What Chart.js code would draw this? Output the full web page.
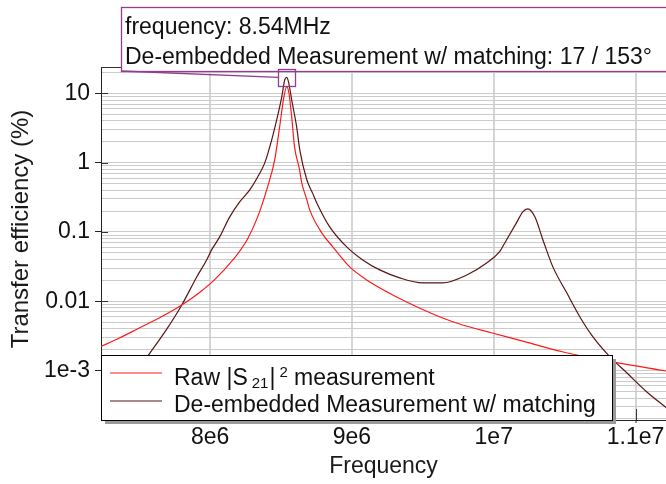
<!DOCTYPE html>
<html>
<head>
<meta charset="utf-8">
<script src="https://cdn.jsdelivr.net/npm/chart.js@4"></script>
<style>
  body { margin: 0; background: #fff; }
  canvas { display: block; }
</style>
</head>
<body>
<canvas id="chart" width="666" height="484"></canvas>
<script>
// values (frequency in Hz, efficiency in %)
const seriesNames = ["Raw |S21|² measurement", "De-embedded Measurement w/ matching"];

const freqRaw = [7.22e6, 7.36e6, 7.50e6, 7.64e6, 7.80e6, 7.93e6, 8.03e6, 8.16e6, 8.26e6, 8.335e6,
  8.405e6, 8.455e6, 8.49e6, 8.52e6, 8.54e6, 8.555e6, 8.575e6, 8.595e6, 8.63e6, 8.646e6,
  8.68e6, 8.702e6, 8.787e6, 8.865e6, 8.984e6, 9.104e6, 9.316e6, 9.46e6, 9.64e6, 9.78e6,
  9.99e6, 10.25e6, 10.49e6, 10.84e6, 11.22e6];
const effRaw = [0.00218, 0.00294, 0.00411, 0.00573, 0.00883, 0.0136, 0.0203, 0.0394, 0.0766, 0.165,
  0.447, 1.10, 3.28, 8.9, 12.4, 10.2, 4.58, 1.69, 0.80, 0.51,
  0.30, 0.208, 0.097, 0.061, 0.0313, 0.0203, 0.0115, 0.00826, 0.00573, 0.00454,
  0.00348, 0.00250, 0.00185, 0.00133, 0.00098];

const freqDeemb = [7.40e6, 7.566e6, 7.69e6, 7.80e6, 7.905e6, 7.975e6, 8.01e6, 8.067e6, 8.138e6, 8.208e6,
  8.279e6, 8.335e6, 8.385e6, 8.434e6, 8.469e6, 8.505e6, 8.526e6, 8.54e6, 8.554e6, 8.575e6,
  8.61e6, 8.632e6, 8.681e6, 8.723e6, 8.752e6, 8.843e6, 8.963e6, 9.076e6, 9.196e6, 9.337e6,
  9.50e6, 9.64e6, 9.81e6, 9.95e6, 10.04e6, 10.09e6, 10.16e6, 10.205e6, 10.24e6, 10.29e6,
  10.347e6, 10.417e6, 10.516e6, 10.608e6, 10.70e6, 10.82e6, 10.94e6, 11.08e6, 11.22e6];
const effDeemb = [0.00056, 0.00168, 0.00385, 0.00883, 0.0224, 0.0394, 0.055, 0.0848, 0.165, 0.271,
  0.404, 0.622, 0.991, 2.13, 4.14, 8.9, 15.7, 17, 14.2, 8.05,
  3.28, 1.53, 0.57, 0.36, 0.262, 0.118, 0.0607, 0.0394, 0.0283, 0.0217,
  0.0184, 0.0184, 0.0239, 0.0356, 0.0514, 0.0766, 0.135, 0.195, 0.215, 0.165,
  0.0766, 0.0313, 0.0131, 0.00593, 0.00305, 0.00157, 0.00092, 0.00049, 0.000287];

const xTicks = [8e6, 9e6, 1e7, 1.1e7];
const xTickLabels = ["8e6", "9e6", "1e7", "1.1e7"];
const yDecades = [1e-3, 0.01, 0.1, 1, 10];
const yTickLabels = ["1e-3", "0.01", "0.1", "1", "10"];
const yTitle = "Transfer efficiency (%)";

const peakFreq = 8.54e6;
const peakEff = 17;
const markerText = ["frequency: 8.54MHz", "De-embedded Measurement w/ matching: 17 / 153°"];

const X_MIN = 7.23e6, X_MAX = 1.1215e7;
const Y_MIN = 1.93e-4, Y_MAX = 24;

const RED = "#ff1a1a";
const BROWN = "#5c1414";
const PURPLE = "#923c92";
const FONT = '"Liberation Sans", Arial, sans-serif';

Chart.defaults.font.family = FONT;
Chart.defaults.color = "#1a1a1a";

function isDecade(v) {
  return yDecades.some(d => Math.abs(v - d) / d < 1e-6);
}

function toPoints(xs, ys) {
  return xs.map((x, i) => ({x: x, y: ys[i]}));
}

// legend, marker annotation, y title and frame bits drawn on top
const overlay = {
  id: "overlay",
  afterDraw(chart) {
    const ctx = chart.ctx;
    const a = chart.chartArea;
    const xs = chart.scales.x, ys = chart.scales.y;
    ctx.save();

    // top frame + inner tick marks
    ctx.strokeStyle = "#333";
    ctx.lineWidth = 1;
    ctx.beginPath();
    ctx.moveTo(a.left, a.top + 0.5);
    ctx.lineTo(a.right, a.top + 0.5);
    ctx.stroke();
    ys.ticks.forEach(t => {
      if (!isDecade(t.value)) return;
      const py = Math.round(ys.getPixelForValue(t.value)) + 0.5;
      ctx.beginPath(); ctx.moveTo(a.left, py); ctx.lineTo(a.left + 7, py); ctx.stroke();
    });
    xs.ticks.forEach(t => {
      const px = Math.round(xs.getPixelForValue(t.value)) + 0.5;
      ctx.beginPath(); ctx.moveTo(px, a.bottom); ctx.lineTo(px, a.bottom - 11); ctx.stroke();
    });

    // y axis title
    ctx.save();
    ctx.translate(21, 229);
    ctx.rotate(-Math.PI / 2);
    ctx.font = "24px " + FONT;
    ctx.fillStyle = "#1a1a1a";
    ctx.textAlign = "center";
    ctx.textBaseline = "middle";
    ctx.fillText(yTitle, 0, 0);
    ctx.restore();

    // legend box
    const lx = a.left, lw = 511, lh = 65, ly = a.bottom - lh;
    ctx.fillStyle = "#9a9a9a";
    ctx.fillRect(lx + 4, ly + 4, lw, lh);
    ctx.fillStyle = "#fff";
    ctx.fillRect(lx, ly, lw, lh);
    ctx.strokeStyle = "#000";
    ctx.strokeRect(lx + 0.5, ly + 0.5, lw, lh);

    const rowY = [ly + 18, ly + 46];
    const colors = [RED, BROWN];
    colors.forEach((c, i) => {
      ctx.strokeStyle = c;
      ctx.lineWidth = 1.2;
      ctx.beginPath();
      ctx.moveTo(lx + 9, rowY[i]);
      ctx.lineTo(lx + 61, rowY[i]);
      ctx.stroke();
    });

    ctx.fillStyle = "#111";
    ctx.textBaseline = "alphabetic";
    ctx.textAlign = "left";
    const big = "23px " + FONT, small = "15px " + FONT;
    let tx = lx + 73;
    const b1 = rowY[0] + 12;
    ctx.font = big; ctx.fillText("Raw |S", tx, b1); tx += ctx.measureText("Raw |S").width + 4;
    ctx.font = small; ctx.fillText("21", tx, b1 + 3); tx += ctx.measureText("21").width + 1;
    ctx.font = big; ctx.fillText("|", tx, b1); tx += ctx.measureText("|").width + 4;
    ctx.font = small; ctx.fillText("2", tx, b1 - 8); tx += ctx.measureText("2").width;
    ctx.font = big; ctx.fillText(" measurement", tx, b1);
    ctx.fillText(seriesNames[1], lx + 73, rowY[1] + 11);

    // marker annotation
    const mx = xs.getPixelForValue(peakFreq);
    const my = ys.getPixelForValue(peakEff);
    const bx = 121, by = 7, bh = 64;
    ctx.fillStyle = "#fff";
    ctx.fillRect(bx, by, 700, bh);
    ctx.strokeStyle = PURPLE;
    ctx.lineWidth = 1.3;
    ctx.strokeRect(bx + 0.5, by + 0.5, 700, bh);
    ctx.beginPath();
    ctx.moveTo(bx, by + bh);
    ctx.lineTo(mx - 8.5, my);
    ctx.stroke();
    ctx.strokeRect(Math.round(mx - 8.5) + 0.5, Math.round(my - 8.5) + 0.5, 17, 17);
    ctx.fillStyle = "#111";
    ctx.font = big;
    ctx.fillText(markerText[0], bx + 4, by + 27);
    ctx.fillText(markerText[1], bx + 4, by + 57);

    ctx.restore();
  }
};

new Chart(document.getElementById("chart"), {
  type: "line",
  data: {
    datasets: [
      {label: seriesNames[0], data: toPoints(freqRaw, effRaw), borderColor: RED, borderWidth: 1.2,
       pointRadius: 0, cubicInterpolationMode: "monotone", fill: false},
      {label: seriesNames[1], data: toPoints(freqDeemb, effDeemb), borderColor: BROWN, borderWidth: 1.2,
       pointRadius: 0, cubicInterpolationMode: "monotone", fill: false}
    ]
  },
  options: {
    responsive: false,
    animation: false,
    events: [],
    layout: {padding: {top: 67, left: 0, right: 0, bottom: 0}},
    plugins: {legend: {display: false}, tooltip: {enabled: false}},
    scales: {
      x: {
        type: "linear",
        min: X_MIN, max: X_MAX,
        afterFit(s) { s.height = 64; },
        afterBuildTicks(s) { s.ticks = xTicks.map(v => ({value: v})); },
        ticks: {
          autoSkip: false, maxRotation: 0, padding: 1, color: "#111",
          font: {size: 23},
          callback: (v) => { const i = xTicks.indexOf(v); return i >= 0 ? xTickLabels[i] : ""; }
        },
        grid: {color: "#d6d6d6", lineWidth: 2, tickLength: 3, tickColor: "#222", tickWidth: 1},
        border: {display: true, color: "#222", width: 1},
        title: {display: true, text: "Frequency", font: {size: 23}, color: "#1a1a1a", padding: {top: 0, bottom: 4}}
      },
      y: {
        type: "logarithmic",
        min: Y_MIN, max: Y_MAX,
        afterFit(s) { s.width = 101; },
        afterBuildTicks(s) {
          const t = [];
          for (let e = -4; e <= 1; e++) {
            for (let k = 1; k <= 9; k++) {
              const v = Number((k * Math.pow(10, e)).toPrecision(3));
              if (v >= Y_MIN && v <= Y_MAX) t.push({value: v, major: k === 1});
            }
          }
          s.ticks = t;
        },
        ticks: {
          autoSkip: false, padding: 5, color: "#111",
          font: {size: 23},
          callback: (v) => { const i = yDecades.findIndex(d => Math.abs(v - d) / d < 1e-6); return i >= 0 ? yTickLabels[i] : ""; }
        },
        grid: {
          color: "#cbcbcb", lineWidth: 1, tickLength: 6, tickWidth: 1,
          tickColor: (c) => (c.tick && isDecade(c.tick.value)) ? "#222" : "rgba(0,0,0,0)"
        },
        border: {display: true, color: "#222", width: 1}
      }
    }
  },
  plugins: [overlay]
});
</script>
</body>
</html>
